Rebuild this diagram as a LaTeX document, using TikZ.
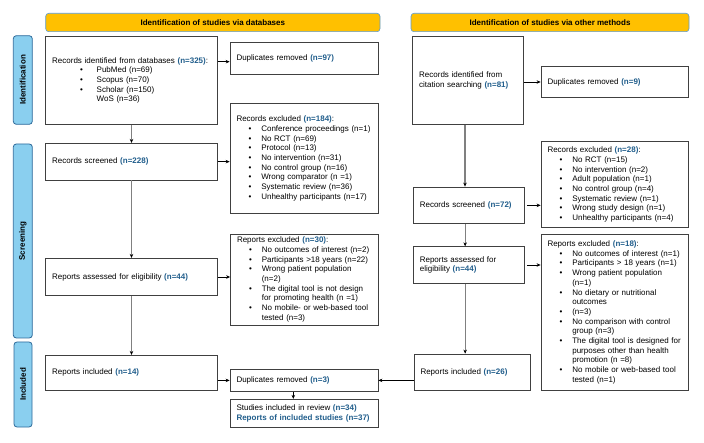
\documentclass[tikz,border=0pt]{standalone}
\usepackage{fontspec}
\setmainfont{Liberation Sans}
\usetikzlibrary{arrows.meta}
\definecolor{nblue}{HTML}{215E8C}
\definecolor{hdr}{HTML}{FFC000}
\definecolor{hdrb}{HTML}{5B9BD5}
\definecolor{sidef}{HTML}{8ACFEF}
\definecolor{sideb}{HTML}{2E6A9A}
\definecolor{boxb}{HTML}{404040}
\definecolor{vline}{HTML}{808080}
\newcommand{\nv}[1]{\textcolor{nblue}{\textbf{#1}}}
\newcommand{\blk}[1]{\begin{tabular}{@{}l@{}}#1\end{tabular}}
\newcommand{\pbul}{\hspace*{27.8pt}\makebox[16.7pt][l]{\textbullet}}
\newcommand{\pcont}{\hspace*{44.5pt}}
\newcommand{\ebul}{\hspace*{12.1pt}\makebox[12.7pt][l]{\textbullet}}
\newcommand{\econt}{\hspace*{24.8pt}}
\begin{document}
\begin{tikzpicture}[x=1pt,y=-1pt,
  font=\fontsize{8}{9.7}\selectfont,
  box/.style={draw=boxb, line width=0.75pt, fill=white, inner xsep=6.5pt, inner ysep=0pt, align=left},
  hdrbox/.style={draw=hdrb, fill=hdr, line width=0.6pt, rounded corners=3pt, font=\fontsize{8}{9.7}\selectfont\bfseries, inner sep=0pt},
  sidebox/.style={draw=sideb, fill=sidef, line width=0.8pt, rounded corners=3pt, rotate=90, font=\fontsize{8}{9.7}\selectfont\bfseries, inner sep=0pt},
  harr/.style={draw=black, line width=0.6pt, -{Stealth[length=4pt,width=3.5pt]}},
  varr/.style={draw=vline, line width=1.1pt, -{Stealth[length=4pt,width=3.5pt,color=black]}},
]
\useasboundingbox (0,0) rectangle (704,443);

% headers
\node[hdrbox, minimum width=334.3pt, minimum height=18.4pt] (h1) at (212.85,22.5) {Identification of studies via databases};
\node[hdrbox, minimum width=278pt, minimum height=18.4pt] (h2) at (550,22.5) {Identification of studies via other methods};

% side labels
\node[sidebox, minimum width=88.6pt, minimum height=19pt] (s1) at (22.8,80) {Identification};
\node[sidebox, minimum width=194pt, minimum height=19pt] (s2) at (22.8,241) {Screening};
\node[sidebox, minimum width=85pt, minimum height=18pt] (s3) at (23,384.5) {Included};

% left column
\node[box, minimum width=171.6pt, minimum height=87.6pt, text width=158.6pt] (rid) at (131.5,80.5)
 {\blk{Records identified from databases \nv{(n=325)}:\\ \pbul PubMed (n=69)\\ \pbul Scopus (n=70)\\ \pbul Scholar (n=150)\\ \pcont WoS (n=36)}};
\node[box, minimum width=148pt, minimum height=32pt, text width=135pt] (dup1) at (304,58)
 {Duplicates removed \nv{(n=97)}};
\node[box, minimum width=148pt, minimum height=110.2pt, text width=135pt] (rexc) at (304,158.6)
 {\blk{Records excluded \nv{(n=184)}:\\
 \ebul Conference proceedings (n=1)\\
 \ebul No RCT (n=69)\\
 \ebul Protocol (n=13)\\
 \ebul No intervention (n=31)\\
 \ebul No control group (n=16)\\
 \ebul Wrong comparator (n =1)\\
 \ebul Systematic review (n=36)\\
 \ebul Unhealthy participants (n=17)}};
\node[box, minimum width=171.6pt, minimum height=36.7pt, text width=158.6pt] (rscr) at (131.5,161.65)
 {Records screened \nv{(n=228)}};
\node[box, minimum width=171.6pt, minimum height=37.4pt, text width=158.6pt] (rass) at (131.5,277)
 {Reports assessed for eligibility \nv{(n=44)}};
\node[box, minimum width=148pt, minimum height=91pt, text width=135pt] (repx) at (304.5,279.5)
 {\blk{Reports excluded \nv{(n=30)}:\\
 \ebul No outcomes of interest (n=2)\\
 \ebul Participants >18 years (n=22)\\
 \ebul Wrong patient population\\
 \econt (n=2)\\
 \ebul The digital tool is not design\\
 \econt for promoting health (n =1)\\
 \ebul No mobile- or web-based tool\\
 \econt tested (n=3)}};
\node[box, minimum width=171.6pt, minimum height=34.7pt, text width=158.6pt] (rinc) at (131.5,372.65)
 {Reports included \nv{(n=14)}};
\node[box, minimum width=148pt, minimum height=22.2pt, text width=135pt] (dup3) at (304,380.4)
 {Duplicates removed \nv{(n=3)}};
\node[box, minimum width=148pt, minimum height=28pt, text width=135pt] (stud) at (304,413.3)
 {\blk{Studies included in review \nv{(n=34)}\\ \nv{Reports of included studies (n=37)}}};

% right column
\node[box, minimum width=110.6pt, minimum height=87.6pt, text width=97.6pt] (rid2) at (468,80.5)
 {\blk{Records identified from\\ citation searching \nv{(n=81)}}};
\node[box, minimum width=147.7pt, minimum height=30.6pt, text width=134.7pt] (dup9) at (614.85,82)
 {Duplicates removed \nv{(n=9)}};
\node[box, minimum width=147.7pt, minimum height=86pt, text width=134.7pt] (rexc2) at (614.85,184.7)
 {\blk{Records excluded \nv{(n=28)}:\\
 \ebul No RCT (n=15)\\
 \ebul No intervention (n=2)\\
 \ebul Adult population (n=1)\\
 \ebul No control group (n=4)\\
 \ebul Systematic review (n=1)\\
 \ebul Wrong study design (n=1)\\
 \ebul Unhealthy participants (n=4)}};
\node[box, minimum width=110.7pt, minimum height=36.7pt, text width=97.7pt] (rscr2) at (468.65,205.35)
 {Records screened \nv{(n=72)}};
\node[box, minimum width=110.7pt, minimum height=36.6pt, text width=97.7pt] (rass2) at (468.65,265)
 {\blk{Reports assessed for\\ eligibility \nv{(n=44)}}};
\node[box, minimum width=147.7pt, minimum height=156.4pt, text width=134.7pt] (repx2) at (614.85,312.5)
 {\blk{Reports excluded \nv{(n=18)}:\\
 \ebul No outcomes of interest (n=1)\\
 \ebul Participants > 18 years (n=1)\\
 \ebul Wrong patient population\\
 \econt (n=1)\\
 \ebul No dietary or nutritional\\
 \econt outcomes\\
 \ebul (n=3)\\
 \ebul No comparison with control\\
 \econt group (n=3)\\
 \ebul The digital tool is designed for\\
 \econt purposes other than health\\
 \econt promotion (n =8)\\
 \ebul No mobile or web-based tool\\
 \econt tested (n=1)}};
\node[box, minimum width=116.7pt, minimum height=36pt, text width=103.7pt] (rinc2) at (472.35,372)
 {Reports included \nv{(n=26)}};

% connectors left
\draw[harr] ([yshift=-3.7pt]dup1.west -| rid.east) -- ([yshift=-3.7pt]dup1.west);
\draw[varr] (rid.south) -- (rscr.north);
\draw[harr] (rscr.east) -- (rscr.east -| rexc.west);
\draw[varr] (rscr.south) -- (rass.north);
\draw[harr] (rass.east) -- (rass.east -| repx.west);
\draw[varr] (rass.south) -- (rinc.north);
\draw[harr] (dup3.west -| rinc.east) -- (dup3.west);
\draw[harr] ([xshift=-10.7pt]dup3.south) -- ([xshift=-10.7pt]dup3.south |- stud.north);
\draw[harr] (dup3.east -| rinc2.west) -- (dup3.east);

% connectors right
\draw[harr] (dup9.west -| rid2.east) -- (dup9.west);
\draw[varr] ([xshift=-3pt]rid2.south) -- ([xshift=-3pt]rid2.south |- rscr2.north);
\draw[harr] ([xshift=2.5pt]rscr2.east) -- (rscr2.east -| rexc2.west);
\draw[varr] ([xshift=-3.5pt]rscr2.south) -- ([xshift=-3.5pt]rscr2.south |- rass2.north);
\draw[harr] ([xshift=2.5pt]rass2.east) -- (rass2.east -| repx2.west);
\draw[varr] ([xshift=-3.5pt]rass2.south) -- ([xshift=-3.5pt]rass2.south |- rinc2.north);
\end{tikzpicture}
\end{document}
